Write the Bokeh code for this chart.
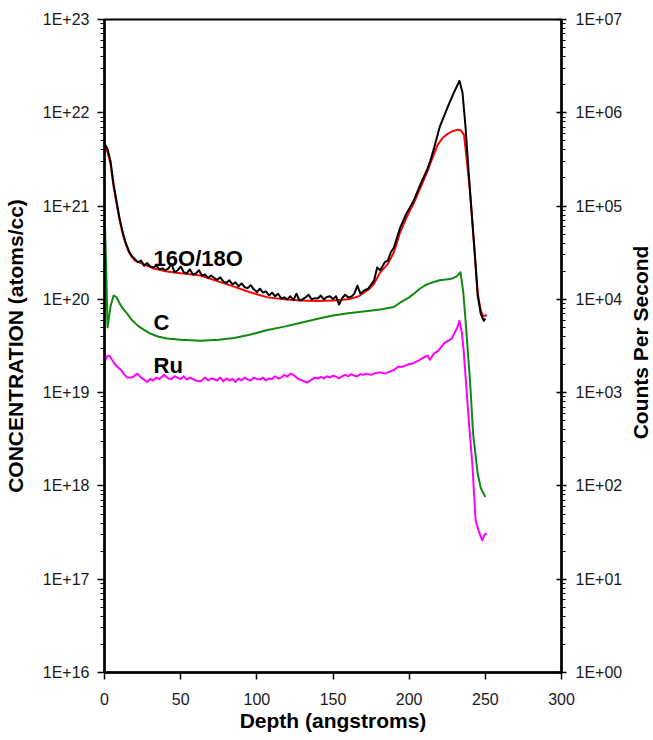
import math
from bokeh.plotting import figure
from bokeh.layouts import row
from bokeh.models import (Range1d, LogScale, LogAxis, FixedTicker,
                          CustomJSTickFormatter, Label)
from bokeh.embed import file_html
from bokeh.resources import INLINE

# ---------------- data ----------------
# 16O/18O profile (black, noisy)
o_depth = [0, 2, 4, 6, 8, 10, 12, 14, 16, 18, 20, 22, 24, 26, 28, 30, 32, 34,
           36, 38, 40, 42, 44, 46, 48, 50, 52, 54, 56, 58, 60, 62, 64, 66, 68,
           70, 72, 74, 76, 78, 80, 82, 84, 86, 88, 90, 92, 94, 96, 98, 100,
           102, 104, 106, 108, 110, 112, 114, 116, 118, 120, 122, 124, 126,
           128, 130, 132, 134, 136, 138, 140, 142, 144, 146, 148, 150, 152,
           154, 156, 158, 160, 162, 164, 166, 168, 170, 173, 177, 179, 181,
           184, 186, 188, 190, 194, 198, 203, 208, 212, 214, 216, 220, 225,
           229, 233, 235, 237, 240, 243, 245, 247, 249, 250]
o_conc = [4.7e21, 4.1e21, 3.0e21, 1.7e21, 1.1e21, 7.2e20, 5.2e20, 4.0e20,
          3.3e20, 2.9e20, 2.7e20, 2.5e20, 2.6e20, 2.3e20, 2.45e20, 2.25e20,
          2.2e20, 2.3e20, 2.1e20, 2.15e20, 2.05e20, 2.15e20, 2.4e20, 1.95e20,
          2.05e20, 2.25e20, 1.95e20, 1.9e20, 2.1e20, 1.85e20, 1.9e20, 2.05e20,
          1.8e20, 1.85e20, 1.7e20, 1.8e20, 1.7e20, 1.62e20, 1.72e20, 1.55e20,
          1.5e20, 1.6e20, 1.45e20, 1.52e20, 1.38e20, 1.48e20, 1.35e20,
          1.32e20, 1.42e20, 1.28e20, 1.2e20, 1.3e20, 1.18e20, 1.22e20,
          1.1e20, 1.18e20, 1.08e20, 1.15e20, 1.02e20, 1.05e20, 1.0e20,
          1.08e20, 0.98e20, 1.15e20, 0.97e20, 1.0e20, 1.05e20, 1.12e20,
          1.0e20, 1.03e20, 1.02e20, 1.1e20, 1.0e20, 1.06e20, 1.08e20, 1.01e20,
          1.08e20, 0.88e20, 1.03e20, 1.12e20, 1.05e20, 1.07e20, 1.15e20,
          1.4e20, 1.15e20, 1.23e20, 1.3e20, 1.6e20, 2.2e20, 2.05e20, 2.5e20,
          2.6e20, 3.2e20, 3.6e20, 5.8e20, 8.2e20, 1.15e21, 1.8e21, 2.5e21,
          3.1e21, 4.0e21, 7.0e21, 1.12e22, 1.6e22, 2.2e22, 1.65e22, 7.0e21,
          1.4e21, 3.2e20, 1.1e20, 7.0e19, 5.9e19, 6.2e19]

# second oxygen trace (red, smooth)
o2_depth = [0, 2, 4, 6, 8, 10, 12, 14, 16, 18, 20, 25, 32, 40, 50, 63, 75,
            85, 95, 107, 118, 129, 140, 150, 160, 167, 170, 174, 177, 181,
            186, 190, 194, 198, 203, 208, 212, 214, 216, 218.6, 222, 225,
            228, 232, 234, 236, 237.5, 240, 243, 245, 247, 248.5, 251]
o2_conc = [4.4e21, 3.8e21, 2.8e21, 1.6e21, 1.05e21, 7.0e20, 5.0e20, 3.9e20,
           3.2e20, 2.85e20, 2.6e20, 2.4e20, 2.15e20, 2.0e20, 1.9e20, 1.8e20,
           1.55e20, 1.37e20, 1.2e20, 1.05e20, 1.0e20, 0.97e20, 0.96e20,
           0.97e20, 1.0e20, 1.08e20, 1.17e20, 1.3e20, 1.48e20, 1.95e20,
           2.4e20, 3.2e20, 5.2e20, 7.4e20, 1.07e21, 1.66e21, 2.35e21, 2.9e21,
           3.5e21, 4.5e21, 5.4e21, 5.9e21, 6.3e21, 6.6e21, 6.45e21, 5.8e21,
           3.5e21, 1.4e21, 3.2e20, 1.15e20, 7.6e19, 6.6e19, 6.8e19]

# carbon (green)
c_depth = [0, 1, 2, 4, 6, 8, 10, 12, 15, 18, 22, 26, 30, 35, 41, 50, 63, 75,
           85, 96, 107, 118, 129, 140, 150, 160, 170, 181, 190, 194, 200,
           203, 207, 210, 214, 220, 227, 231, 233.7, 235.5, 237, 240, 242,
           245, 247, 250]
c_conc = [9.5e20, 2.5e20, 5.0e19, 8.5e19, 1.1e20, 1.05e20, 9.0e19, 8.0e19,
          7.0e19, 6.0e19, 5.2e19, 4.7e19, 4.3e19, 4.0e19, 3.8e19, 3.7e19,
          3.6e19, 3.7e19, 3.85e19, 4.2e19, 4.7e19, 5.1e19, 5.6e19, 6.2e19,
          6.7e19, 7.1e19, 7.4e19, 7.8e19, 8.3e19, 9.2e19, 1.05e20, 1.15e20,
          1.3e20, 1.4e20, 1.5e20, 1.6e20, 1.65e20, 1.75e20, 1.95e20, 1.2e20,
          6.0e19, 1.3e19, 3.6e18, 1.35e18, 9.5e17, 7.6e17]

# ruthenium (magenta)
ru_depth = [0, 1.5, 3, 5, 7, 9, 11, 12.5, 15, 18, 21.5, 24, 26, 28, 30, 32,
            34, 36, 39, 42, 44, 46, 48, 50, 52, 54, 56, 58, 60, 63, 66, 68,
            70, 72, 74, 76, 78, 80, 82, 84, 86, 88, 90, 92, 94, 96, 98, 100,
            102, 104, 106, 108, 110, 112, 114, 116, 118, 120, 122, 124, 126,
            128, 130, 133, 136, 138, 140, 142, 144, 146, 148, 150, 152, 154,
            156, 158, 160, 162, 164, 166, 168, 170, 172, 175, 178, 181, 184,
            186, 190, 193, 196, 199, 202, 206, 210, 212, 213.6, 216, 219, 223,
            228, 231.6, 233, 234.5, 235.8, 239, 241.6, 243.6, 245.6, 248,
            249.5, 251]
ru_conc = [2.1e19, 2.45e19, 2.5e19, 2.25e19, 2.0e19, 1.85e19, 1.75e19,
           1.6e19, 1.45e19, 1.45e19, 1.6e19, 1.45e19, 1.38e19, 1.3e19,
           1.4e19, 1.35e19, 1.45e19, 1.4e19, 1.55e19, 1.42e19, 1.4e19,
           1.5e19, 1.45e19, 1.4e19, 1.5e19, 1.38e19, 1.45e19, 1.4e19,
           1.35e19, 1.32e19, 1.45e19, 1.35e19, 1.42e19, 1.4e19, 1.35e19,
           1.45e19, 1.32e19, 1.42e19, 1.35e19, 1.4e19, 1.3e19, 1.42e19,
           1.35e19, 1.45e19, 1.38e19, 1.35e19, 1.45e19, 1.4e19, 1.38e19,
           1.45e19, 1.35e19, 1.42e19, 1.4e19, 1.5e19, 1.42e19, 1.45e19,
           1.55e19, 1.48e19, 1.6e19, 1.55e19, 1.45e19, 1.38e19, 1.35e19,
           1.28e19, 1.38e19, 1.45e19, 1.42e19, 1.48e19, 1.42e19, 1.5e19,
           1.45e19, 1.52e19, 1.48e19, 1.42e19, 1.5e19, 1.55e19, 1.5e19,
           1.58e19, 1.52e19, 1.5e19, 1.58e19, 1.55e19, 1.6e19, 1.55e19,
           1.62e19, 1.65e19, 1.6e19, 1.65e19, 1.75e19, 1.9e19, 1.9e19,
           2.0e19, 2.05e19, 2.2e19, 2.4e19, 2.5e19, 2.25e19, 2.6e19, 2.8e19,
           3.4e19, 3.8e19, 5.0e19, 5.9e19, 4.5e19, 2.8e19, 5.4e18, 1.6e18,
           4.3e17, 3.3e17, 2.6e17, 3.0e17, 3.1e17]

x_ticks = [0, 50, 100, 150, 200, 250, 300]
conc_decades = [1e16, 1e17, 1e18, 1e19, 1e20, 1e21, 1e22, 1e23]
cps_decades = [1e0, 1e1, 1e2, 1e3, 1e4, 1e5, 1e6, 1e7]

# ---------------- styling ----------------
FONT = "Liberation Sans"
TICK_FS = "16px"
TITLE_FS = "21px"

conc_minor = [m * 10.0 ** e for e in range(16, 23) for m in range(2, 10)]
cps_minor = [m * 10.0 ** e for e in range(0, 7) for m in range(2, 10)]

fmt_code = ("const e = Math.round(Math.log10(tick));"
            "return '1E+' + (e < 10 ? '0' + e : '' + e);")

p = figure(width=626, height=740, output_backend="svg", toolbar_location=None,
           x_range=Range1d(0, 300), y_range=Range1d(1e16, 1e23),
           y_axis_type="log",
           extra_y_ranges={"cps": Range1d(1, 1e7)},
           extra_y_scales={"cps": LogScale()},
           min_border_left=104, min_border_right=65,
           min_border_top=19, min_border_bottom=68)
p.background_fill_color = "white"
p.border_fill_color = "white"
p.outline_line_color = "black"
p.outline_line_width = 2
p.xgrid.visible = False
p.ygrid.visible = False

# lines
p.line(o2_depth, o2_conc, line_color="#ff0000", line_width=2, line_join="round")
p.line(o_depth, o_conc, line_color="#000000", line_width=2, line_join="round")
p.line(c_depth, c_conc, line_color="#118811", line_width=2, line_join="round")
p.line(ru_depth, ru_conc, line_color="#ff00ff", line_width=2, line_join="round")

# x axis
xa = p.xaxis[0]
xa.ticker = FixedTicker(ticks=x_ticks)
xa.axis_label = "Depth (angstroms)"
xa.major_tick_in = 0
xa.major_tick_out = 7
xa.major_label_standoff = 13
xa.axis_label_standoff = 1

# left axis
ya = p.yaxis[0]
ya.ticker = FixedTicker(ticks=conc_decades, minor_ticks=conc_minor)
ya.formatter = CustomJSTickFormatter(code=fmt_code)
ya.axis_label = "CONCENTRATION (atoms/cc)"
ya.major_tick_in = 0
ya.major_tick_out = 7
ya.minor_tick_in = 0
ya.minor_tick_out = 4
ya.major_label_standoff = 8
ya.axis_label_standoff = 13

# right axis (ticks + labels)
ra = LogAxis(y_range_name="cps",
             ticker=FixedTicker(ticks=cps_decades, minor_ticks=cps_minor),
             formatter=CustomJSTickFormatter(code=fmt_code))
ra.major_tick_in = 5
ra.major_tick_out = 5
ra.minor_tick_in = 0
ra.minor_tick_out = 4
ra.major_label_standoff = 9
p.add_layout(ra, "right")

for ax in (xa, ya, ra):
    ax.axis_line_color = "black"
    ax.axis_line_width = 2.5
    ax.major_tick_line_color = "black"
    ax.major_tick_line_width = 1.5
    ax.minor_tick_line_width = 1
    ax.major_label_text_font = FONT
    ax.major_label_text_font_size = TICK_FS
    ax.major_label_text_color = "#1a1a1a"
    ax.axis_label_text_font = FONT
    ax.axis_label_text_font_size = TITLE_FS
    ax.axis_label_text_font_style = "bold"
    ax.axis_label_text_color = "black"
ya.minor_tick_line_color = "black"
ra.minor_tick_line_color = "black"
xa.minor_tick_line_color = None

# in-plot series labels
for txt, yv in (("16O/18O", 2.74e20), ("C", 5.65e19), ("Ru", 1.96e19)):
    p.add_layout(Label(x=32.2, y=yv, text=txt, text_font=FONT,
                       text_font_size="22px", text_font_style="bold",
                       text_color="black", text_baseline="alphabetic",
                       text_align="left"))

# narrow strip on the right holding the right-hand axis title (bottom to top)
side = figure(width=27, height=740, output_backend="svg",
              toolbar_location=None, x_range=Range1d(0, 27),
              y_range=Range1d(0, 740), min_border=0,
              x_axis_type=None, y_axis_type=None)
side.outline_line_color = None
side.background_fill_color = "white"
side.border_fill_color = "white"
side.xgrid.visible = False
side.ygrid.visible = False
side.add_layout(Label(x=14, y=374, text="Counts Per Second", angle=math.pi / 2,
                      text_font=FONT, text_font_size=TITLE_FS,
                      text_font_style="bold", text_color="black",
                      text_align="center", text_baseline="middle"))

layout = row(p, side)
open("out.html", "w").write(file_html(layout, INLINE))
